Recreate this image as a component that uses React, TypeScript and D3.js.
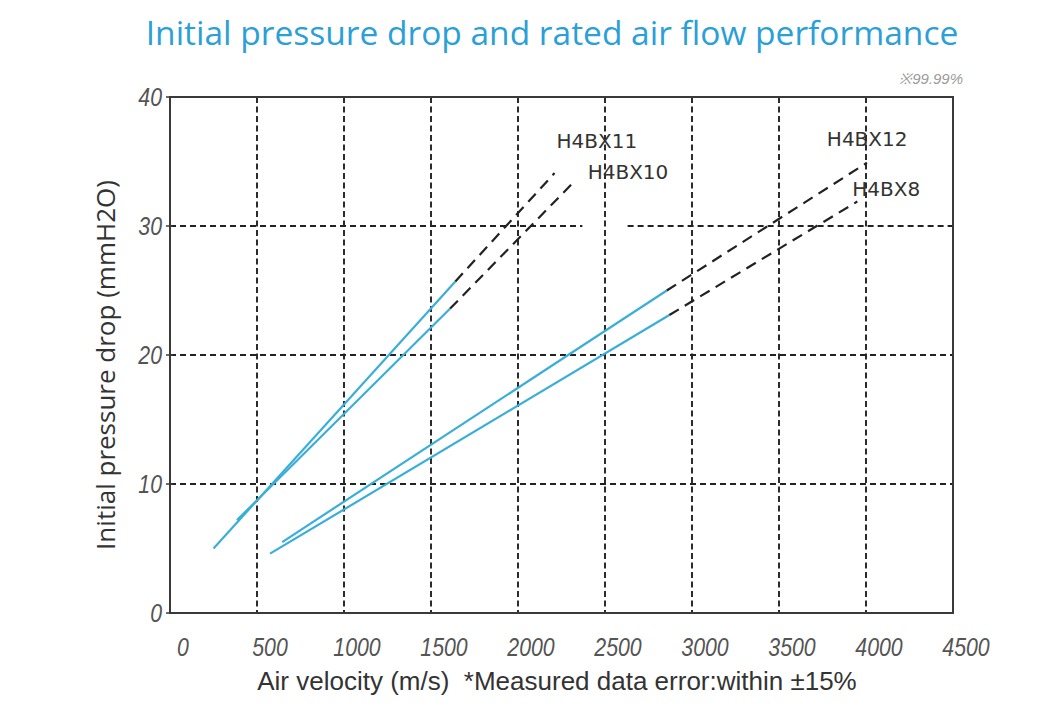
import React from "react";
import * as d3 from "d3";

const xTicks = [0, 500, 1000, 1500, 2000, 2500, 3000, 3500, 4000, 4500];
const yTicks = [0, 10, 20, 30, 40];
const gridX = [500, 1000, 1500, 2000, 2500, 3000, 3500, 4000];
const gridY = [10, 20, 30];
// the 30 mmH2O grid line is broken between these two air velocities in the original
const gridGap = { value: 30, from: 2370, to: 2630 };

const seriesNames = ["H4BX11", "H4BX10", "H4BX12", "H4BX8"];
// measured (solid) segment and extrapolated (dashed) segment, [air velocity, pressure drop]
const solidH4BX11 = [[250, 5.0], [1640, 25.7]];
const dashedH4BX11 = [[1640, 25.7], [2210, 34.1]];
const solidH4BX10 = [[385, 7.2], [1610, 23.6]];
const dashedH4BX10 = [[1610, 23.6], [2320, 33.4]];
const solidH4BX12 = [[645, 5.5], [2855, 25.0]];
const dashedH4BX12 = [[2855, 25.0], [4005, 34.9]];
const solidH4BX8 = [[575, 4.6], [2870, 23.1]];
const dashedH4BX8 = [[2870, 23.1], [3950, 31.9]];

const solids = [solidH4BX11, solidH4BX10, solidH4BX12, solidH4BX8];
const dashes = [dashedH4BX11, dashedH4BX10, dashedH4BX12, dashedH4BX8];
const labelOffsets = [[2, -25], [14, -3], [-40, -17], [-5, -5]];

const title = "Initial pressure drop and rated air flow performance";
const yTitle = "Initial pressure drop (mmH2O)";
const xTitle = "Air velocity (m/s)  *Measured data error:within \u00b115%";
const note = "\u203b99.99%";

export default function App() {
  const W = 1060, H = 714;
  const x = d3.scaleLinear().domain([0, 4500]).range([170, 953]);
  const y = d3.scaleLinear().domain([0, 40]).range([613, 97]);
  const line = d3.line<number[]>().x(d => x(d[0])).y(d => y(d[1]));
  const blue = "#3aaed8";
  const dark = "#222";

  const hSegments: { v: number; a: number; b: number }[] = [];
  gridY.forEach(v => {
    if (v === gridGap.value) {
      hSegments.push({ v, a: 0, b: gridGap.from });
      hSegments.push({ v, a: gridGap.to, b: 4500 });
    } else {
      hSegments.push({ v, a: 0, b: 4500 });
    }
  });

  return (
    <svg width={W} height={H} style={{ position: "absolute", left: 0, top: 0, background: "#fff" }}>
      <rect width={W} height={H} fill="#fff" />
      <text x={552} y={45} textAnchor="middle" fill="#2a9fd8" fontFamily="'Open Sans', 'Noto Sans', sans-serif" fontSize={33.5}>{title}</text>
      <text x={963} y={84} textAnchor="end" fill="#9a9a9a" fontFamily="'Liberation Sans', sans-serif" fontStyle="italic" fontSize={15}>{note}</text>

      {/* grid */}
      {gridX.map(v => (
        <line key={"gx" + v} x1={x(v)} x2={x(v)} y1={y(40)} y2={y(0)} stroke={dark} strokeWidth={1.9} strokeDasharray="6,3.5" />
      ))}
      {hSegments.map((s, i) => (
        <line key={"gy" + i} x1={x(s.a)} x2={x(s.b)} y1={y(s.v)} y2={y(s.v)} stroke={dark} strokeWidth={1.9} strokeDasharray="6,4" />
      ))}

      {/* frame */}
      <rect x={x(0)} y={y(40)} width={x(4500) - x(0)} height={y(0) - y(40)} fill="none" stroke="#3a3a3a" strokeWidth={2} />
      {yTicks.map(v => (
        <line key={"yt" + v} x1={x(0) - 4} x2={x(0) + 3} y1={y(v)} y2={y(v)} stroke="#3a3a3a" strokeWidth={1.5} />
      ))}

      {/* tick labels */}
      {xTicks.map(v => (
        <text key={"xl" + v} transform={`translate(${x(v) + 13},${656}) scale(0.82,1)`} textAnchor="middle" fill="#555" fontFamily="'Liberation Sans', sans-serif" fontStyle="italic" fontSize={26}>{v}</text>
      ))}
      {yTicks.map(v => (
        <text key={"yl" + v} transform={`translate(${x(0) - 8},${y(v) + 9}) scale(0.82,1)`} textAnchor="end" fill="#555" fontFamily="'Liberation Sans', sans-serif" fontStyle="italic" fontSize={26}>{v}</text>
      ))}

      {/* series */}
      {solids.map((s, i) => (
        <path key={"s" + i} d={line(s) || ""} fill="none" stroke={blue} strokeWidth={2.2} />
      ))}
      {dashes.map((s, i) => (
        <path key={"d" + i} d={line(s) || ""} fill="none" stroke={dark} strokeWidth={2.2} strokeDasharray="11,7" />
      ))}
      {seriesNames.map((n, i) => {
        const end = dashes[i][1];
        return (
          <text key={"n" + n} x={x(end[0]) + labelOffsets[i][0]} y={y(end[1]) + labelOffsets[i][1]} fill="#333" fontFamily="'DejaVu Sans', sans-serif" fontSize={20}>{n}</text>
        );
      })}

      {/* axis titles */}
      <text transform={`translate(115,365) rotate(-90)`} textAnchor="middle" fill="#333" fontFamily="'Open Sans', 'Noto Sans', sans-serif" fontSize={26}>{yTitle}</text>
      <text x={557} y={690} textAnchor="middle" fill="#333" fontFamily="'Liberation Sans', Arial, sans-serif" fontSize={26} style={{ whiteSpace: "pre" }}>{xTitle}</text>
    </svg>
  );
}
